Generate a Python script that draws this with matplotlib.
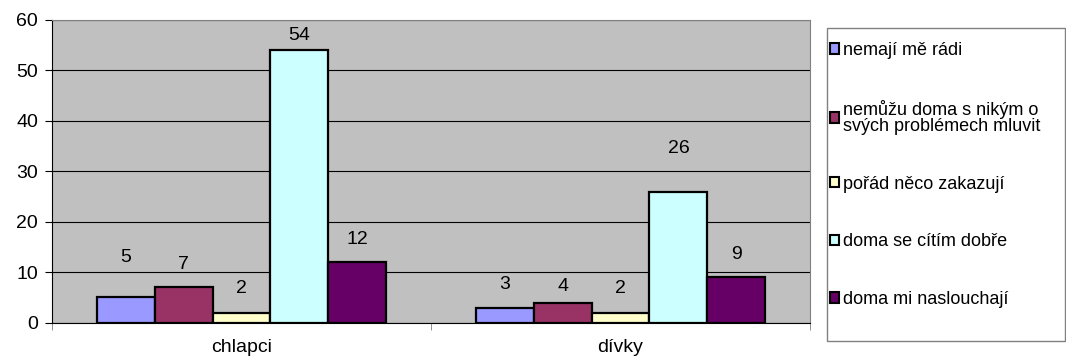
import matplotlib.pyplot as plt
from matplotlib.patches import Rectangle
import numpy as np

# data
skupiny = ["chlapci", "dívky"]
odpovedi = ["nemají mě rádi",
            "nemůžu doma s nikým o\nsvých problémech mluvit",
            "pořád něco zakazují",
            "doma se cítím dobře",
            "doma mi naslouchají"]
chlapci = [5, 7, 2, 54, 12]
divky = [3, 4, 2, 26, 9]
barvy = ["#9999FF", "#993366", "#FFFFCC", "#CCFFFF", "#660066"]

# posun popisku nad sloupcem (px), jak je to v excelu
posun = [[40, 23, 24, 15, 23],
         [23, 16, 24, 43, 23]]

plt.rcParams['font.family'] = ['Liberation Sans', 'DejaVu Sans']

fig = plt.figure(figsize=(10.66, 3.58), dpi=100)
ax = fig.add_axes([52/1066, 1-322.7/358, (810-52)/1066, (322.7-20)/358])
ax.set_facecolor("#C0C0C0")

x = np.arange(len(skupiny)) + 0.5
sirka = 0.153
hodnoty = np.array([chlapci, divky])
for i in range(len(odpovedi)):
    pos = x + (i - 2) * sirka
    bars = ax.bar(pos, hodnoty[:, i], sirka, color=barvy[i], edgecolor="black",
                  linewidth=1.6, label=odpovedi[i], zorder=3)
    for j, (b, v) in enumerate(zip(bars, hodnoty[:, i])):
        ax.annotate(str(v), (b.get_x() + b.get_width()/2, v), xytext=(0, posun[j][i]*0.72),
                    textcoords="offset points", ha="center", va="center", fontsize=14)

ax.set_xlim(0, 2)
ax.set_ylim(0, 60)
ax.set_yticks(range(0, 61, 10))
ax.yaxis.grid(True, color="black", linewidth=0.8, zorder=1)
ax.set_axisbelow(True)
ax.set_xticks(x)
ax.set_xticklabels(skupiny, fontsize=14)
ax.set_xticks([0, 1, 2], minor=True)
ax.tick_params(axis="x", which="major", length=0, pad=12)
ax.tick_params(axis="x", which="minor", length=5, direction="out", color="#808080")
ax.tick_params(axis="y", labelsize=14, length=5, direction="out", pad=5)
ax.spines["left"].set_color("black")
ax.spines["bottom"].set_color("black")
ax.spines["top"].set_color("#808080")
ax.spines["right"].set_color("#808080")

# ramecek legendy zvlast, aby sly nastavit okraje
ramecek = Rectangle((827/1066, 1-341/358), (1066-828)/1066, (341-28)/358,
                    transform=fig.transFigure, facecolor="white", edgecolor="#808080",
                    linewidth=1.0)
fig.patches.append(ramecek)

leg = fig.legend(loc="upper left", bbox_to_anchor=(830/1066, 1-42/358),
                 fontsize=13, frameon=False, borderpad=0,
                 handlelength=0.5, handleheight=0.5, handletextpad=0.2,
                 labelspacing=2.25, borderaxespad=0)
for t in leg.get_texts():
    t.set_linespacing(0.95)
for h in leg.legend_handles:
    h.set_linewidth(1.5)

plt.savefig("out.png", dpi=100)
